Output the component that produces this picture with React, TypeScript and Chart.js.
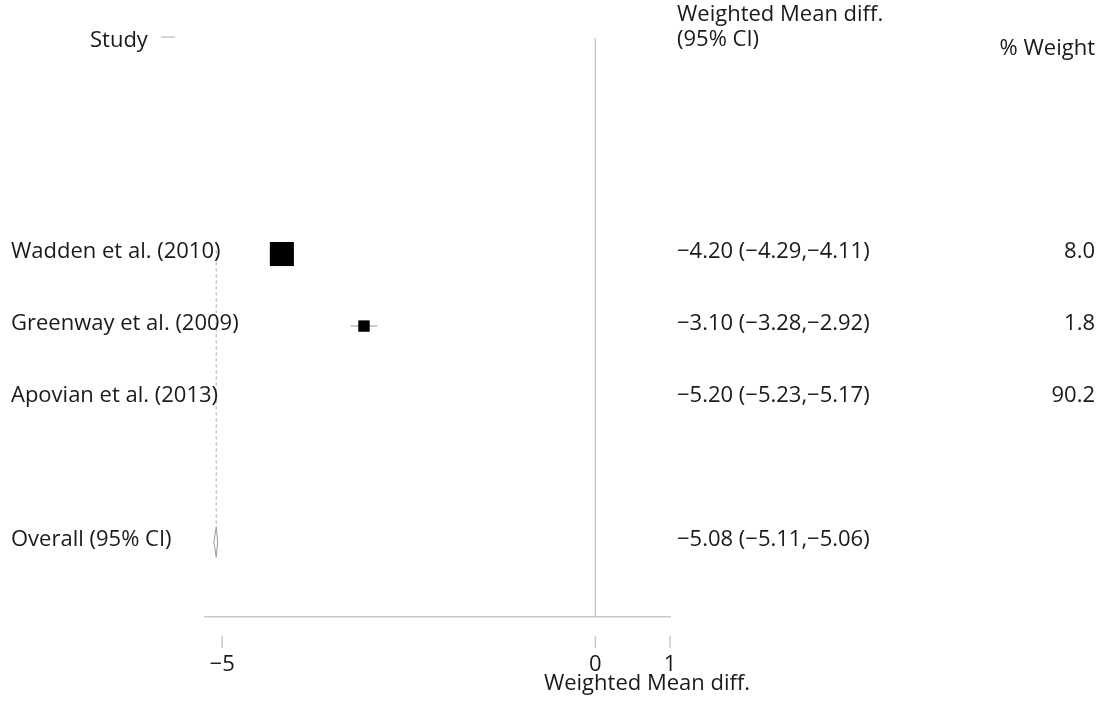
import React, { useEffect, useRef } from 'react';
import { Chart, registerables } from 'chart.js';

Chart.register(...registerables);

// ---- data ----
const studyNames = ['Wadden et al. (2010)', 'Greenway et al. (2009)', 'Apovian et al. (2013)'];
const estimates = [-4.2, -3.1, -5.2];
const lowerCI = [-4.29, -3.28, -5.23];
const upperCI = [-4.11, -2.92, -5.17];
const weights = [8.0, 1.8, 90.2];
const studyRows = [3, 4, 5];

const overallName = 'Overall (95% CI)';
const overallEst = [-5.08];
const overallLo = [-5.11];
const overallHi = [-5.06];
const overallRow = [7];

const xTickValues = [-5, 0, 1];
const xMin = -5.23;
const xMax = 1;
const yMax = 8.04;

const headerStudy = 'Study';
const headerEffect = ['Weighted Mean diff.', '(95% CI)'];
const headerWeight = '% Weight';
const xTitle = 'Weighted Mean diff.';

const FONT = '"Open Sans", "Noto Sans", sans-serif';
const FONT_SIZE = 22;
const TEXT = '#1a1a1a';
const LIGHT = '#c9c9c9';

const fmt = (v: number) => {
  const s = Math.abs(v).toFixed(2);
  return (v < 0 ? '\u2212' : '') + s;
};

export default function App() {
  const ref = useRef<HTMLCanvasElement | null>(null);

  useEffect(() => {
    const canvas = ref.current;
    if (!canvas) return;

    const plotWidthPx = 670 - 205;
    const pxPerUnit = plotWidthPx / (xMax - xMin);
    const boxSide = (w: number) => 8.5 * Math.sqrt(w);
    // a box is drawn only when it fits inside the axis range
    const visible = estimates.map((e, i) => {
      const half = boxSide(weights[i]) / 2 / pxPerUnit;
      return e - half >= xMin && e + half <= xMax;
    });

    const whiskerData: any[] = [];
    estimates.forEach((_, i) => {
      if (!visible[i]) return;
      whiskerData.push({ x: lowerCI[i], y: studyRows[i] });
      whiskerData.push({ x: upperCI[i], y: studyRows[i] });
      whiskerData.push({ x: upperCI[i], y: null });
    });

    const boxData = estimates
      .map((e, i) => ({ x: e, y: studyRows[i], w: weights[i], v: visible[i] }))
      .filter((d) => d.v);
    const boxRadii = boxData.map((d) => boxSide(d.w) / (2 * Math.SQRT1_2));

    const dh = 0.21;
    const diamond = [
      { x: overallLo[0], y: overallRow[0] },
      { x: overallEst[0], y: overallRow[0] - dh },
      { x: overallHi[0], y: overallRow[0] },
      { x: overallEst[0], y: overallRow[0] + dh },
      { x: overallLo[0], y: overallRow[0] },
    ];

    const textPlugin = {
      id: 'forestText',
      afterDraw(chart: any) {
        const ctx = chart.ctx;
        const xs = chart.scales.x;
        const ys = chart.scales.y;
        const area = chart.chartArea;
        ctx.save();
        // tick marks (detached below the axis)
        ctx.strokeStyle = LIGHT;
        ctx.lineWidth = 1.5;
        xTickValues.forEach((v) => {
          const px = xs.getPixelForValue(v);
          ctx.beginPath();
          ctx.moveTo(px, area.bottom + 19);
          ctx.lineTo(px, area.bottom + 31);
          ctx.stroke();
        });
        // small dash after "Study"
        ctx.beginPath();
        ctx.moveTo(161, 37);
        ctx.lineTo(175, 37);
        ctx.stroke();

        ctx.fillStyle = TEXT;
        ctx.font = `${FONT_SIZE}px ${FONT}`;
        ctx.textBaseline = 'alphabetic';

        // headers
        ctx.textAlign = 'left';
        ctx.fillText(headerStudy, 90, 47);
        ctx.fillText(headerEffect[0], 677, 21);
        ctx.fillText(headerEffect[1], 677, 46);
        ctx.textAlign = 'right';
        ctx.fillText(headerWeight, 1095, 55);

        // study rows
        studyNames.forEach((name, i) => {
          const py = ys.getPixelForValue(studyRows[i]) + 3.5;
          ctx.textAlign = 'left';
          ctx.fillText(name, 11, py);
          ctx.fillText(
            `${fmt(estimates[i])} (${fmt(lowerCI[i])},${fmt(upperCI[i])})`,
            677,
            py
          );
          ctx.textAlign = 'right';
          ctx.fillText(weights[i].toFixed(1), 1095, py);
        });
        // overall row
        const oy = ys.getPixelForValue(overallRow[0]) + 3.5;
        ctx.textAlign = 'left';
        ctx.fillText(overallName, 11, oy);
        ctx.fillText(`${fmt(overallEst[0])} (${fmt(overallLo[0])},${fmt(overallHi[0])})`, 677, oy);

        // x-axis title
        ctx.textAlign = 'center';
        ctx.fillText(xTitle, 647, 690);
        ctx.restore();
      },
    };

    const chart = new Chart(canvas, {
      type: 'scatter',
      data: {
        datasets: [
          {
            type: 'scatter',
            data: boxData.map((d) => ({ x: d.x, y: d.y })),
            pointStyle: 'rect',
            pointRadius: boxRadii,
            backgroundColor: '#000000',
            borderWidth: 0,
            clip: false,
            order: 1,
          } as any,
          {
            type: 'line',
            data: whiskerData,
            borderColor: '#9a9a9a',
            borderWidth: 1,
            pointRadius: 0,
            spanGaps: false,
            clip: false,
            order: 2,
          } as any,
          {
            type: 'line',
            data: diamond,
            borderColor: '#9a9a9a',
            borderWidth: 1,
            pointRadius: 0,
            fill: false,
            tension: 0,
            clip: false,
            order: 3,
          } as any,
          {
            type: 'line',
            data: [
              { x: overallEst[0], y: 2.95 },
              { x: overallEst[0], y: overallRow[0] - dh },
            ],
            borderColor: '#a8a8a8',
            borderWidth: 1,
            borderDash: [3, 3],
            pointRadius: 0,
            clip: false,
            order: 4,
          } as any,
          {
            type: 'line',
            data: [
              { x: 0, y: 0 },
              { x: 0, y: yMax },
            ],
            borderColor: LIGHT,
            borderWidth: 1.5,
            pointRadius: 0,
            clip: false,
            order: 5,
          } as any,
        ],
      },
      options: {
        animation: false,
        responsive: false,
        maintainAspectRatio: false,
        layout: { padding: { left: 205, right: 1104 - 670, top: 38, bottom: 0 } },
        plugins: {
          legend: { display: false },
          tooltip: { enabled: false },
        },
        scales: {
          x: {
            type: 'linear',
            min: xMin,
            max: xMax,
            afterBuildTicks: (scale: any) => {
              scale.ticks = xTickValues.map((v) => ({ value: v }));
            },
            afterFit: (scale: any) => {
              scale.height = 702 - 617;
            },
            grid: { display: false, drawTicks: false },
            border: { display: true, color: LIGHT, width: 1.5 },
            ticks: {
              padding: 37,
              color: TEXT,
              font: { family: FONT, size: FONT_SIZE, lineHeight: 1.0 },
              maxRotation: 0,
              autoSkip: false,
              callback: (v: any) => fmt(Number(v)).replace('.00', ''),
            },
          },
          y: {
            type: 'linear',
            display: false,
            min: 0,
            max: yMax,
            reverse: true,
          },
        },
      },
      plugins: [textPlugin],
    });

    return () => chart.destroy();
  }, []);

  return (
    <div style={{ position: 'absolute', left: 0, top: 0, width: 1104, height: 702, background: '#fff' }}>
      <canvas ref={ref} width={1104} height={702} style={{ display: 'block' }} />
    </div>
  );
}
